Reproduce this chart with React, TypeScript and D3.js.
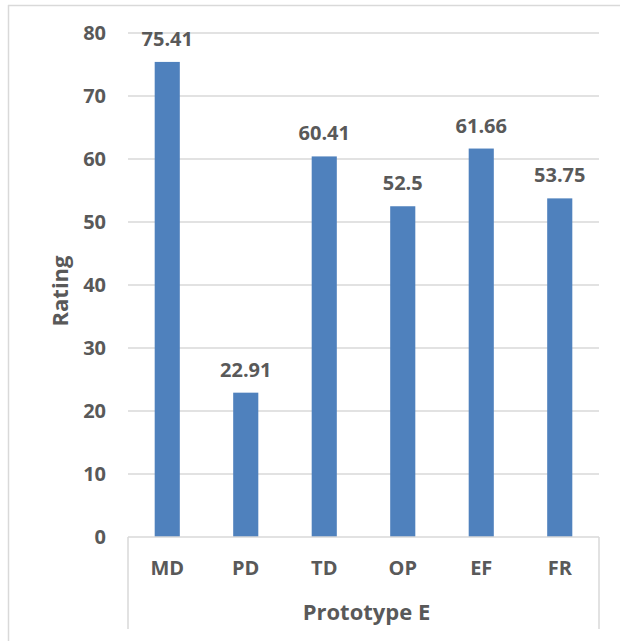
import React from "react";
import * as d3 from "d3";

// Ratings per criterion for prototype E
const categories = ["MD", "PD", "TD", "OP", "EF", "FR"];
const ratings = [75.41, 22.91, 60.41, 52.5, 61.66, 53.75];
const yTicks = [0, 10, 20, 30, 40, 50, 60, 70, 80];
const groupLabel = "Prototype E";
const yTitle = "Rating";

const W = 620;
const H = 641;
const plot = { left: 128, right: 599, top: 33, bottom: 537 };
const FONT = "'Open Sans', sans-serif";
const TEXT = "#595959";
const GRID = "#d9d9d9";
const BAR = "#4F81BD";

export default function App() {
  const x = d3
    .scaleBand<string>()
    .domain(categories)
    .range([plot.left, plot.right])
    .paddingInner(0.68)
    .paddingOuter(0.34);
  const y = d3.scaleLinear().domain([0, 80]).range([plot.bottom, plot.top]);
  const fmt = (v: number) => String(v);

  return (
    <div style={{ position: "absolute", left: 0, top: 0 }}>
      <svg width={W} height={H} style={{ display: "block", background: "#fff" }}>
        {/* chart frame */}
        <line x1={8} x2={W} y1={5.5} y2={5.5} stroke={GRID} strokeWidth={1.5} />
        <line x1={8.5} x2={8.5} y1={5} y2={H} stroke={GRID} strokeWidth={1.5} />

        {/* gridlines and y tick labels */}
        {yTicks.map((t) => (
          <g key={t}>
            {t > 0 && (
              <line
                x1={plot.left}
                x2={plot.right}
                y1={y(t)}
                y2={y(t)}
                stroke={GRID}
                strokeWidth={1.5}
              />
            )}
            <text
              x={106}
              y={y(t)}
              dy="0.36em"
              textAnchor="end"
              fontFamily={FONT}
              fontWeight={700}
              fontSize={20}
              fill={TEXT}
            >
              {t}
            </text>
          </g>
        ))}

        {/* bars */}
        {categories.map((c, i) => (
          <rect
            key={c}
            x={x(c)}
            y={y(ratings[i])}
            width={x.bandwidth()}
            height={y(0) - y(ratings[i])}
            fill={BAR}
          />
        ))}

        {/* value labels */}
        {categories.map((c, i) => (
          <text
            key={c}
            x={(x(c) as number) + x.bandwidth() / 2}
            y={y(ratings[i]) - 16}
            textAnchor="middle"
            fontFamily={FONT}
            fontWeight={700}
            fontSize={20}
            fill={TEXT}
          >
            {fmt(ratings[i])}
          </text>
        ))}

        {/* category axis */}
        <line x1={plot.left} x2={plot.right} y1={plot.bottom} y2={plot.bottom} stroke={GRID} strokeWidth={1.5} />
        <line x1={plot.left} x2={plot.left} y1={plot.bottom} y2={629} stroke={GRID} strokeWidth={1.5} />
        <line x1={plot.right} x2={plot.right} y1={plot.bottom} y2={629} stroke={GRID} strokeWidth={1.5} />
        {categories.map((c) => (
          <text
            key={c}
            x={(x(c) as number) + x.bandwidth() / 2}
            y={568}
            dy="0.36em"
            textAnchor="middle"
            fontFamily={FONT}
            fontWeight={700}
            fontSize={20}
            fill={TEXT}
          >
            {c}
          </text>
        ))}
        <text
          x={(plot.left + plot.right) / 2 + 3}
          y={612}
          dy="0.36em"
          textAnchor="middle"
          fontFamily={FONT}
          fontWeight={700}
          fontSize={22}
          fill={TEXT}
        >
          {groupLabel}
        </text>

        {/* y axis title */}
        <text
          transform={`translate(60, 291) rotate(-90)`}
          dy="0.36em"
          textAnchor="middle"
          fontFamily={FONT}
          fontWeight={700}
          fontSize={22}
          fill={TEXT}
        >
          {yTitle}
        </text>
      </svg>
    </div>
  );
}
